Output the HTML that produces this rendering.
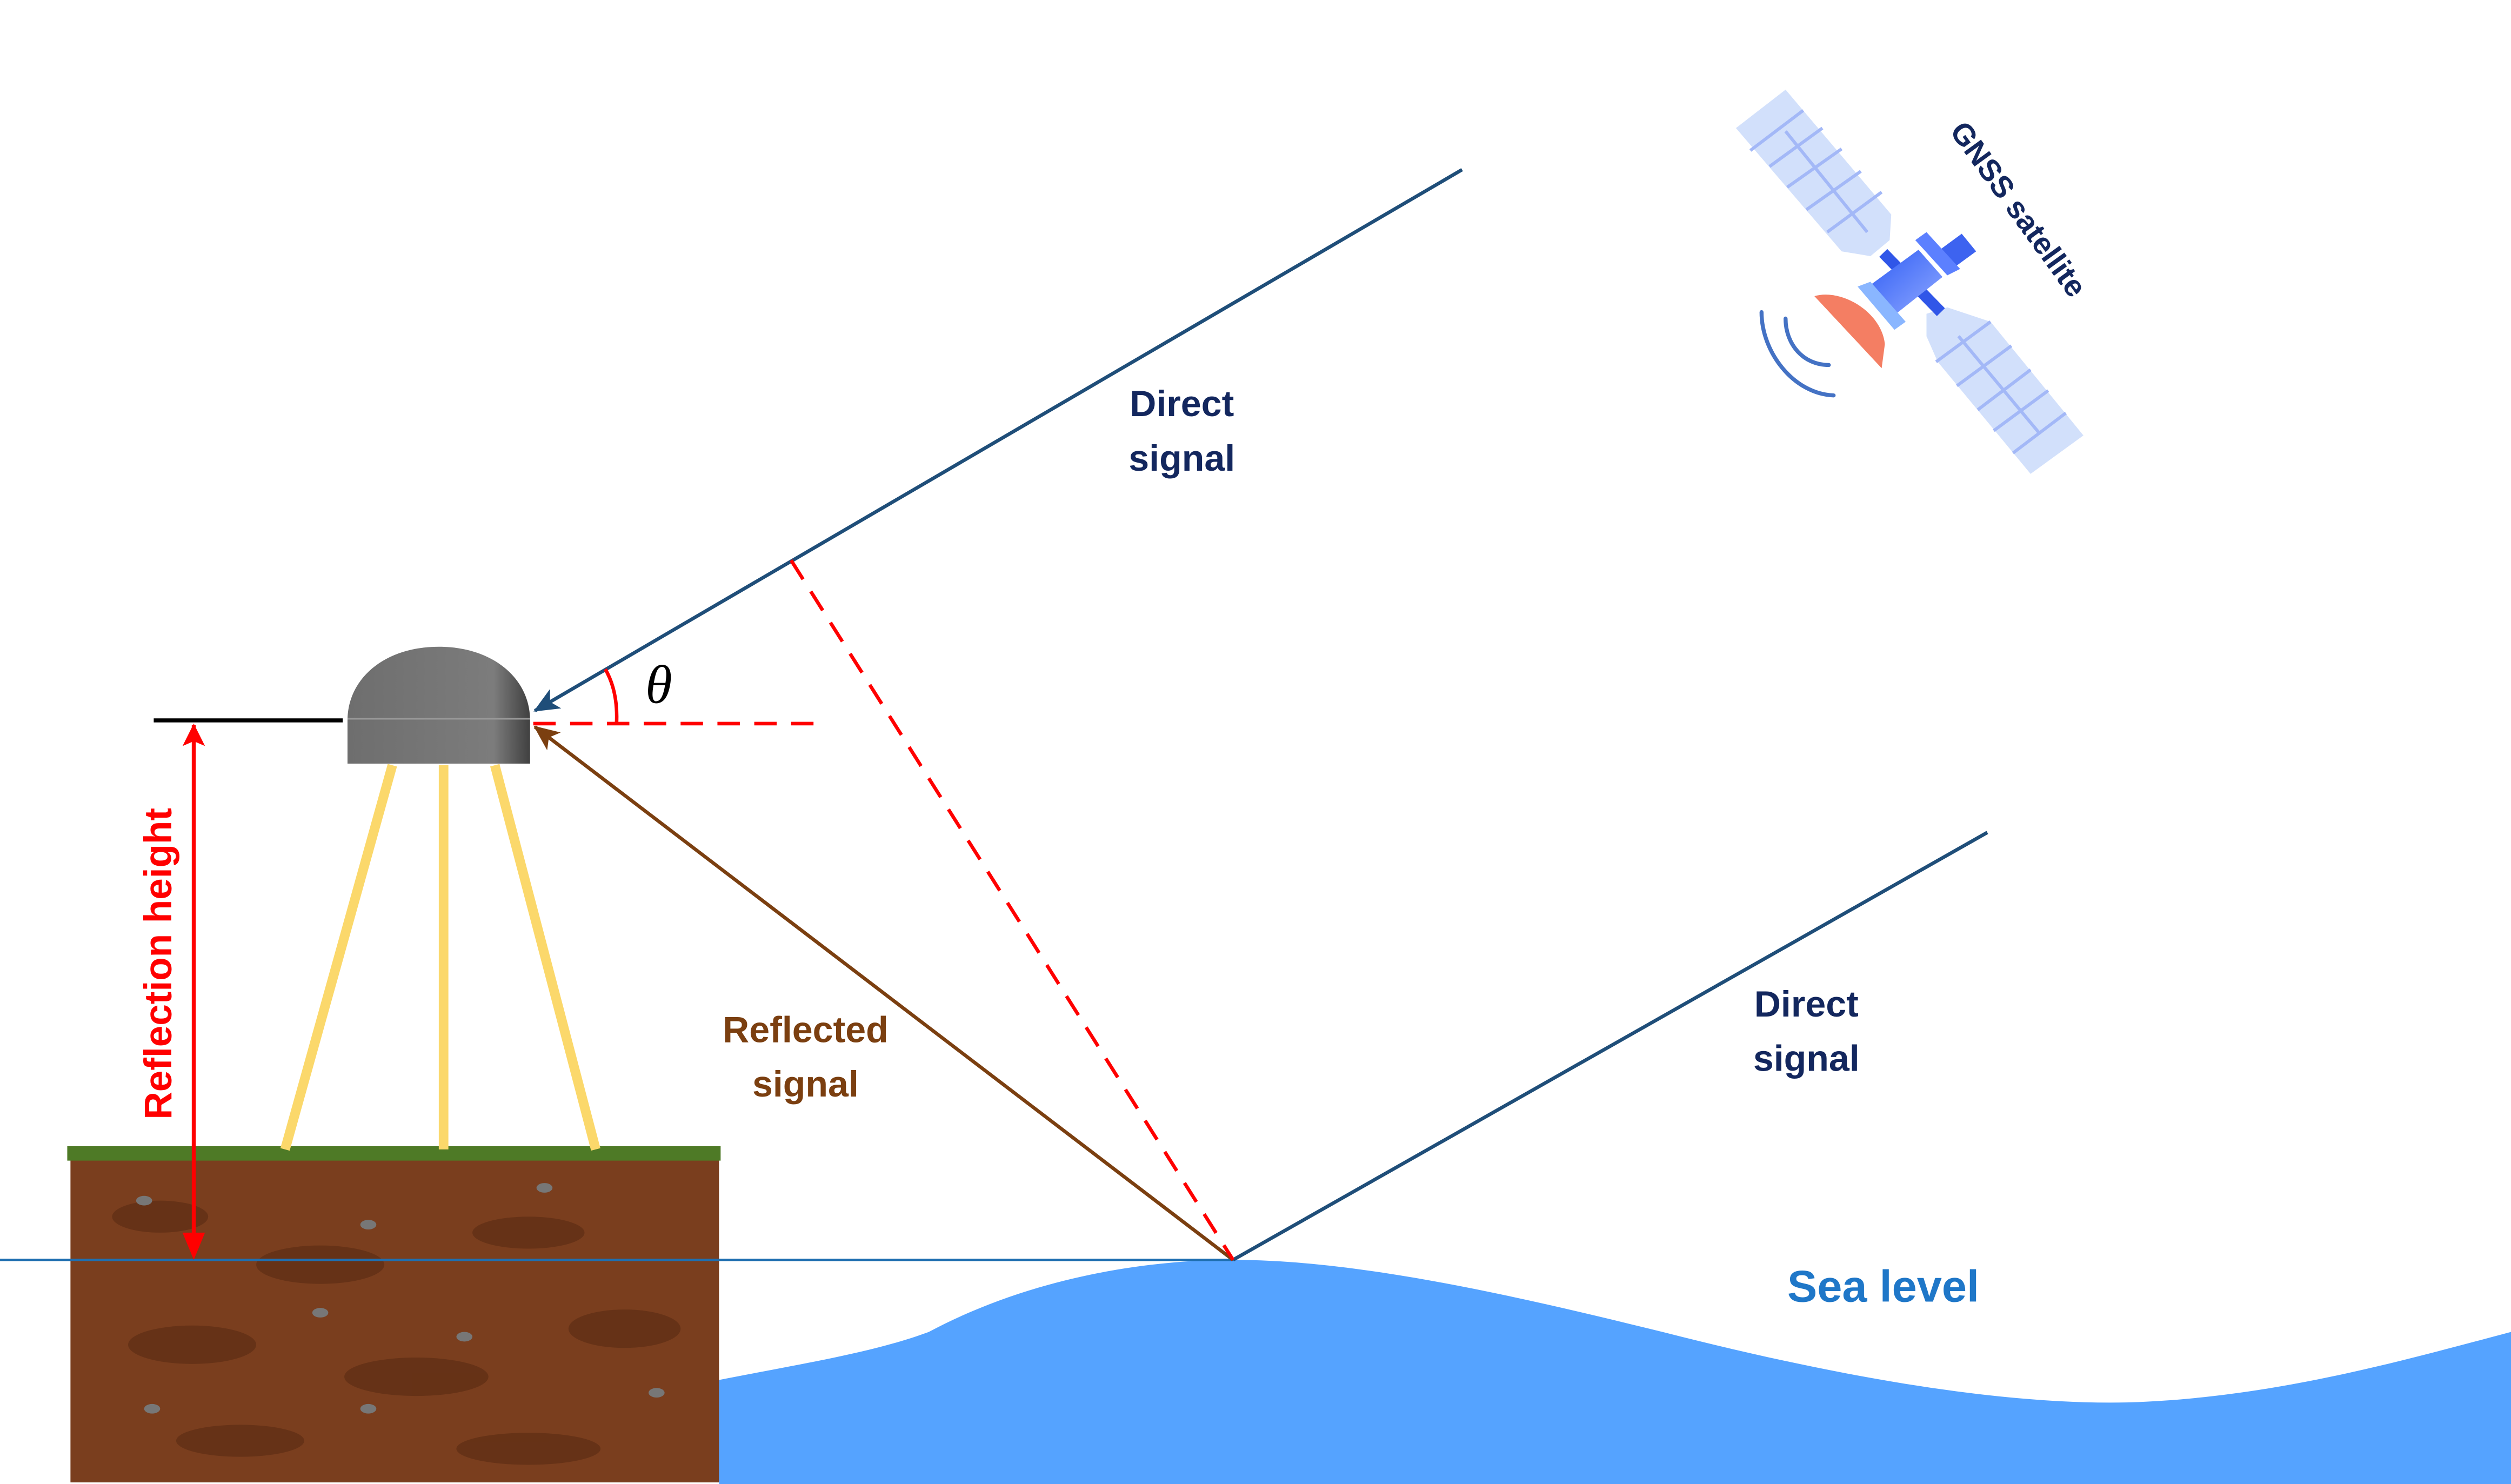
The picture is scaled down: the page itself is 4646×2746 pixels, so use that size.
<!DOCTYPE html>
<html><head><meta charset="utf-8"><style>
html,body{margin:0;padding:0;background:#fff;}
svg{display:block;}
text{font-family:"Liberation Sans",sans-serif;font-weight:bold;}
</style></head><body>
<svg width="4646" height="2746" viewBox="0 0 1568 927" preserveAspectRatio="none">
<defs>
<linearGradient id="dome" x1="0" x2="1" y1="0" y2="0"><stop offset="0" stop-color="#6e6e6e"/><stop offset="0.8" stop-color="#7c7c7c"/><stop offset="1" stop-color="#404040"/></linearGradient>
<linearGradient id="body" x1="0" x2="1" y1="0" y2="1"><stop offset="0" stop-color="#2f5df5"/><stop offset="1" stop-color="#8fa8ff"/></linearGradient>
<marker id="ab" markerWidth="16" markerHeight="14" refX="15" refY="7" orient="auto" markerUnits="userSpaceOnUse"><path d="M0,0 L16,7 L0,14 L4,7 Z" fill="#1f4e79"/></marker>
<marker id="abr" markerWidth="16" markerHeight="14" refX="15" refY="7" orient="auto" markerUnits="userSpaceOnUse"><path d="M0,0 L16,7 L0,14 L4,7 Z" fill="#7b3f10"/></marker>
<marker id="ar" markerWidth="14" markerHeight="14" refX="13" refY="7" orient="auto" markerUnits="userSpaceOnUse"><path d="M0,0 L14,7 L0,14 L3,7 Z" fill="#ff0000"/></marker>
</defs>

<path d="M449,862 C500,852 545,845 580,832 C640,800 710,787 770,787 C850,787 950,810 1050,835 C1150,860 1250,878 1330,876 C1420,873 1500,850 1568,832 L1568,927 L449,927 Z" fill="#55a3ff"/>

<g>
<rect x="44" y="722" width="405" height="204" fill="#7a3e1e"/>
<g fill="#5e2d14" opacity="0.7">
<ellipse cx="100" cy="760" rx="30" ry="10"/><ellipse cx="200" cy="790" rx="40" ry="12"/><ellipse cx="330" cy="770" rx="35" ry="10"/>
<ellipse cx="120" cy="840" rx="40" ry="12"/><ellipse cx="260" cy="860" rx="45" ry="12"/><ellipse cx="390" cy="830" rx="35" ry="12"/>
<ellipse cx="150" cy="900" rx="40" ry="10"/><ellipse cx="330" cy="905" rx="45" ry="10"/>
</g>
<g fill="#777">
<ellipse cx="90" cy="750" rx="5" ry="3"/><ellipse cx="230" cy="765" rx="5" ry="3"/><ellipse cx="340" cy="742" rx="5" ry="3"/><ellipse cx="200" cy="820" rx="5" ry="3"/><ellipse cx="95" cy="880" rx="5" ry="3"/><ellipse cx="290" cy="835" rx="5" ry="3"/><ellipse cx="410" cy="870" rx="5" ry="3"/><ellipse cx="230" cy="880" rx="5" ry="3"/>
</g>
<rect x="42" y="716" width="408" height="9" fill="#4e7a26"/>
</g>

<line x1="0" y1="787" x2="770" y2="787" stroke="#1f6fb0" stroke-width="1.5"/>

<g stroke="#fbd86b" stroke-width="6">
<line x1="245" y1="478" x2="178" y2="718"/><line x1="277" y1="478" x2="277" y2="718"/><line x1="309" y1="478" x2="372" y2="718"/>
</g>

<g>
<path d="M217,477 L217,450 C217,424 240,404 274,404 C308,404 331,424 331,450 L331,477 Z" fill="url(#dome)"/>
<line x1="217" y1="449" x2="331" y2="449" stroke="#999" stroke-width="1"/>
</g>

<line x1="96" y1="450" x2="214" y2="450" stroke="#000" stroke-width="2.5"/>
<line x1="121" y1="775" x2="121" y2="453" stroke="#ff0000" stroke-width="2.5" marker-end="url(#ar)"/>
<path d="M114,770 L121,787 L128,770 Z" fill="#ff0000"/>
<text transform="translate(107,602) rotate(-90)" text-anchor="middle" font-size="24" fill="#ff0000">Reflection height</text>

<line x1="913" y1="106" x2="334" y2="444" stroke="#1f4e79" stroke-width="2.2" marker-end="url(#ab)"/>
<line x1="770" y1="787" x2="334" y2="454" stroke="#7b3f10" stroke-width="2.2" marker-end="url(#abr)"/>
<line x1="770" y1="787" x2="1241" y2="520" stroke="#1f4e79" stroke-width="2.2"/>
<line x1="333" y1="452" x2="517" y2="452" stroke="#ff0000" stroke-width="2.2" stroke-dasharray="14,9"/>
<line x1="494" y1="350" x2="770" y2="787" stroke="#ff0000" stroke-width="2.2" stroke-dasharray="14,9"/>
<path d="M378,418 Q386,432 385,452" fill="none" stroke="#ff0000" stroke-width="2.2"/>
<text x="403" y="439" style="font-family:'Liberation Serif',serif;font-style:italic;font-weight:normal" font-size="34" fill="#000">θ</text>

<g font-size="23" fill="#13275e" text-anchor="middle">
<text x="738" y="260">Direct</text>
<text x="738" y="294">signal</text>
<text x="1128" y="635">Direct</text>
<text x="1128" y="669">signal</text>
</g>
<g font-size="23" fill="#7b3f10" text-anchor="middle">
<text x="503" y="651">Reflected</text>
<text x="503" y="685">signal</text>
</g>
<text x="1176" y="813" text-anchor="middle" font-size="28" fill="#1f77c8">Sea level</text>

<g>
<path d="M1084,80 L1115,56 L1181,134 L1180,150 L1168,160 L1150,157 Z" fill="#d2e0fb"/>
<g stroke="#a3b8f7" stroke-width="2">
<line x1="1093" y1="94" x2="1126" y2="69"/><line x1="1105" y1="104" x2="1138" y2="80"/><line x1="1116" y1="117" x2="1150" y2="93"/><line x1="1128" y1="131" x2="1162" y2="107"/><line x1="1141" y1="145" x2="1175" y2="120"/><line x1="1115" y1="82" x2="1166" y2="145"/>
</g>
<path d="M1203,196 L1216,192 L1243,201 L1301,272 L1268,296 L1210,226 L1203,210 Z" fill="#d2e0fb"/>
<g stroke="#a3b8f7" stroke-width="2">
<line x1="1209" y1="226" x2="1243" y2="201"/><line x1="1222" y1="241" x2="1256" y2="216"/><line x1="1235" y1="256" x2="1268" y2="231"/><line x1="1245" y1="269" x2="1279" y2="244"/><line x1="1257" y1="283" x2="1290" y2="258"/><line x1="1223" y1="210" x2="1273" y2="270"/>
</g>
<line x1="1176" y1="158" x2="1212" y2="195" stroke="#3056e8" stroke-width="7"/>
<polygon points="1168,178 1198,156 1213,173 1184,196" fill="url(#body)"/>
<polygon points="1210,157 1225,146 1234,157 1219,168" fill="#3d63f0"/>
<polygon points="1196,150 1203,145 1224,168 1216,172" fill="#5c80ff"/>
<polygon points="1160,179 1168,176 1190,201 1183,206" fill="#8ab6ff"/>
<path d="M1133,185 C1150,180 1175,195 1177,215 L1175,230 Z" fill="#f47e63"/>
<path d="M1100,195 C1100,220 1120,246 1145,247" fill="none" stroke="#4472c4" stroke-width="2.5" stroke-linecap="round"/>
<path d="M1115,199 C1115,215 1126,228 1142,228" fill="none" stroke="#4472c4" stroke-width="2.5" stroke-linecap="round"/>
<text transform="translate(1217,82) rotate(54)" font-size="19" fill="#13275e">GNSS satellite</text>
</g>
</svg>
</body></html>
